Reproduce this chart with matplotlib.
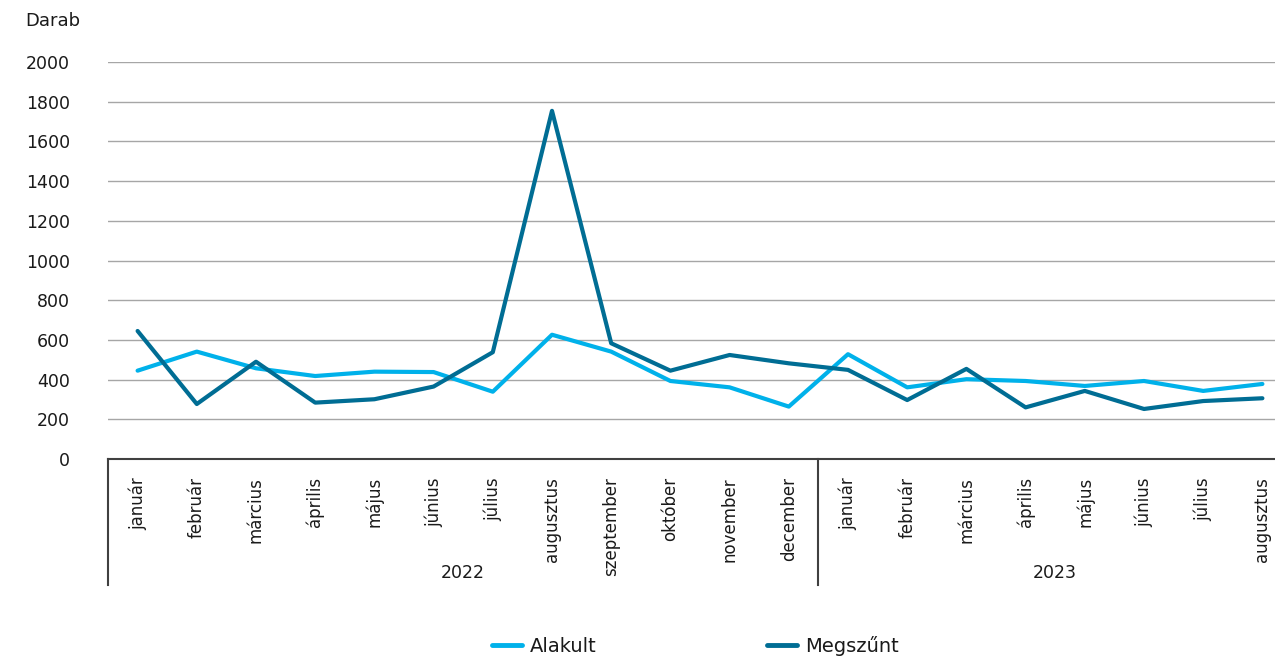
import matplotlib
matplotlib.use("Agg")
import matplotlib.pyplot as plt
import matplotlib.transforms as mtransforms
from matplotlib.lines import Line2D

plt.rcParams['font.family'] = ['DejaVu Sans']

months = ["január", "február", "március", "április", "május", "június", "július",
          "augusztus", "szeptember", "október", "november", "december",
          "január", "február", "március", "április", "május", "június", "július",
          "augusztus"]
years = ["2022", "2023"]
year_counts = [12, 8]

alakult = [445, 541, 457, 418, 440, 438, 339, 626, 541, 393, 361, 264,
           528, 361, 402, 393, 368, 393, 343, 378]
megszunt = [645, 277, 490, 284, 301, 365, 538, 1754, 583, 445, 524, 482,
            449, 297, 454, 260, 343, 252, 292, 306]

yticks = [0, 200, 400, 600, 800, 1000, 1200, 1400, 1600, 1800, 2000]

W, H = 1275, 659
fig = plt.figure(figsize=(W / 100, H / 100), dpi=100)
left, right, bottom, top = 108, 1292, 459, 62
ax = fig.add_axes([left / W, 1 - bottom / H, (right - left) / W, (bottom - top) / H])

c_light = "#00b1ea"
c_dark = "#006d94"
txt = "#1a1a1a"
x = list(range(len(months)))
ax.plot(x, alakult, color=c_light, lw=3, solid_capstyle='round', solid_joinstyle='round', label="Alakult", zorder=3)
ax.plot(x, megszunt, color=c_dark, lw=3, solid_capstyle='round', solid_joinstyle='round', label="Megszűnt", zorder=4)

ax.set_xlim(-0.5, len(months) - 0.5)
ax.set_ylim(0, 2000)
ax.set_yticks(yticks)
ax.set_yticklabels([str(v) for v in yticks], fontsize=12.5, color=txt)
ax.yaxis.grid(True, color="#a6a6a6", lw=1)
ax.set_axisbelow(True)
ax.tick_params(axis='y', length=0, pad=27.4)

ax.set_xticks(x)
ax.set_xticklabels(months, rotation=90, fontsize=12, color=txt)
ax.tick_params(axis='x', length=0, pad=13)

for s in ['top', 'right', 'left']:
    ax.spines[s].set_visible(False)
ax.spines['bottom'].set_color("#404040")
ax.spines['bottom'].set_linewidth(1.5)

trans = mtransforms.blended_transform_factory(ax.transData, ax.transAxes)
sep_y = -(585 - 459) / (bottom - top)
pos = -0.5
bounds = [pos]
for n in year_counts:
    pos += n
    bounds.append(pos)
for b in bounds:
    ax.add_line(Line2D([b, b], [0, sep_y], transform=trans, color="#404040", lw=1.5, clip_on=False))
year_y = -(573 - 459) / (bottom - top)
for i, yr in enumerate(years):
    cx = (bounds[i] + bounds[i + 1]) / 2
    ax.text(cx, year_y, yr, transform=trans, ha='center', va='center', fontsize=12.5, color=txt)

fig.text(25 / W, 1 - 21 / H, "Darab", ha='left', va='center', fontsize=13, color=txt)

handles = [Line2D([], [], color=c_light, lw=3.5, solid_capstyle='round'),
           Line2D([], [], color=c_dark, lw=3.5, solid_capstyle='round')]
fig.legend(handles, ["Alakult", "Megszűnt"], loc='center', bbox_to_anchor=(695 / W, 1 - 646 / H),
           ncol=2, frameon=False, fontsize=14, handlelength=1.55, handletextpad=0.41,
           columnspacing=8.75, labelcolor=txt)

fig.savefig("out.png", dpi=100)
